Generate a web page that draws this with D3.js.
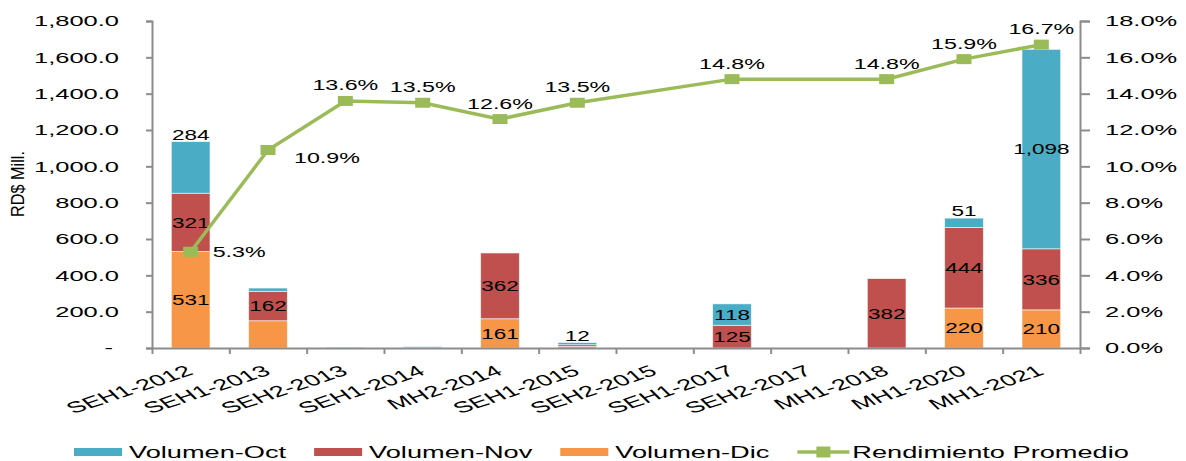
<!DOCTYPE html>
<html>
<head>
<meta charset="utf-8">
<script src="https://cdn.jsdelivr.net/npm/d3@7"></script>
<style>
    body { margin: 0; background: #fff; }
    svg { display: block; font-family: "Liberation Sans", Arial, sans-serif; }
    .axis path, .axis line { stroke: #8c8c8c; stroke-width: 2; }
    .axis text { fill: #000; font-size: 15px; }
</style>
</head>
<body>
<div id="chartDivId"></div>
<script>
// Data
const categories = ["SEH1-2012", "SEH1-2013", "SEH2-2013", "SEH1-2014", "MH2-2014", "SEH1-2015",
    "SEH2-2015", "SEH1-2017", "SEH2-2017", "MH1-2018", "MH1-2020", "MH1-2021"];
const volumenOct = [284, 18, 4, 6, 0, 12, 0, 118, 0, 0, 51, 1098];
const volumenNov = [321, 162, 0, 0, 362, 10, 0, 125, 0, 382, 444, 336];
const volumenDic = [531, 150, 0, 2, 161, 8, 0, 0, 0, 0, 220, 210];
const rendimiento = [5.3, 10.9, 13.6, 13.5, 12.6, 13.5, null, 14.8, null, 14.8, 15.9, 16.7];
const yTicks = [0, 200, 400, 600, 800, 1000, 1200, 1400, 1600, 1800];
const y2Ticks = [0, 2, 4, 6, 8, 10, 12, 14, 16, 18];

// label tweaks
const hiddenLabels = ["Dic|SEH1-2013", "Oct|SEH1-2013"];
const octLabelOnTop = ["SEH1-2012", "SEH1-2015", "MH1-2020"];
const lineLabelPlace = ["right", "rightBelow", "above", "above", "above", "above", null, "above", null, "above", "above", "above"];

const width = 1186, height = 461;
const plot = { left: 152, right: 1080, top: 21, bottom: 348 };
const colors = { Oct: "#4bacc6", Nov: "#c0504d", Dic: "#f79646", line: "#9bbb59" };
const stretch = 1.7;

const svg = d3.select("#chartDivId").append("svg")
    .attr("width", width)
    .attr("height", height);

const rows = categories.map((c, i) => ({ cat: c, Dic: volumenDic[i], Nov: volumenNov[i], Oct: volumenOct[i] }));
const keys = ["Dic", "Nov", "Oct"];
const series = d3.stack().keys(keys)(rows);

const x = d3.scaleBand().domain(categories).range([plot.left, plot.right])
    .paddingInner(0.5).paddingOuter(0.25);
const xEdge = d3.scaleLinear().domain([0, categories.length]).range([plot.left, plot.right]);
const y = d3.scaleLinear().domain([0, 1800]).range([plot.bottom, plot.top]);
const y2 = d3.scaleLinear().domain([0, 18]).range([plot.bottom, plot.top]);
const cx = c => x(c) + x.bandwidth() / 2;

// Bars
svg.append("g").selectAll("g")
    .data(series)
    .enter().append("g")
    .style("fill", d => colors[d.key])
    .selectAll("rect")
    .data(d => d)
    .enter().append("rect")
    .filter(d => d[1] - d[0] > 0)
    .attr("x", d => x(d.data.cat))
    .attr("width", x.bandwidth())
    .attr("y", d => y(d[1]))
    .attr("height", d => y(d[0]) - y(d[1]))
    .style("stroke", "#fff")
    .style("stroke-width", 0.8)
    .style("stroke-opacity", 0.7);

// Axes
const xAxis = d3.axisBottom(xEdge).tickValues(d3.range(categories.length + 1))
    .tickFormat("").tickSize(6).tickSizeOuter(0);
svg.append("g").attr("class", "x axis")
    .attr("transform", "translate(0," + plot.bottom + ")")
    .call(xAxis);

const yAxis = d3.axisLeft(y).tickValues(yTicks).tickSize(6)
    .tickFormat(d => d === 0 ? "-" : d3.format(",.1f")(d));
svg.append("g").attr("class", "y axis")
    .attr("transform", "translate(" + plot.left + ",0)")
    .call(yAxis)
    .selectAll("text")
    .attr("x", 0)
    .attr("transform", d => "translate(" + (d === 0 ? -39 : -33) + ",0) scale(" + stretch + ",1)");

const y2Axis = d3.axisRight(y2).tickValues(y2Ticks).tickSize(10)
    .tickFormat(d => d3.format(".1f")(d) + "%");
svg.append("g").attr("class", "y2 axis")
    .attr("transform", "translate(" + plot.right + ",0)")
    .call(y2Axis)
    .selectAll("text")
    .attr("x", 0)
    .attr("transform", "translate(25,0) scale(" + stretch + ",1)");

// Category labels
svg.append("g").selectAll("text")
    .data(categories)
    .enter().append("text")
    .attr("transform", d => "translate(" + (cx(d) + 4) + "," + 374 + ") scale(1.75,1) rotate(-30)")
    .style("text-anchor", "end")
    .style("font-size", "15.5px")
    .text(d => d);

// Y title
svg.append("text")
    .attr("transform", "translate(24,184) rotate(-90)")
    .attr("textLength", 66)
    .attr("lengthAdjust", "spacingAndGlyphs")
    .style("text-anchor", "middle")
    .style("font-size", "18px")
    .text("RD$ Mill.");

// Bar labels
const barLabels = [];
series.forEach(s => {
    s.forEach(d => {
        const v = d[1] - d[0];
        if (v >= 12 && hiddenLabels.indexOf(s.key + "|" + d.data.cat) < 0) {
            const onTop = s.key === "Oct" && octLabelOnTop.indexOf(d.data.cat) >= 0;
            barLabels.push({
                x: cx(d.data.cat),
                y: onTop ? y(d[1]) - 2 : (y(d[0]) + y(d[1])) / 2,
                dy: onTop ? "0em" : "0.36em",
                text: d3.format(",")(v)
            });
        }
    });
});
svg.append("g").selectAll("text")
    .data(barLabels)
    .enter().append("text")
    .attr("transform", d => "translate(" + d.x + "," + d.y + ") scale(1.5,1)")
    .attr("dy", d => d.dy)
    .style("text-anchor", "middle")
    .style("font-size", "15px")
    .text(d => d.text);

// Line
const linePts = categories.map((c, i) => ({ cat: c, v: rendimiento[i], place: lineLabelPlace[i] }))
    .filter(d => d.v !== null);
const line = d3.line().x(d => cx(d.cat)).y(d => y2(d.v));
svg.append("path")
    .datum(linePts)
    .attr("d", line)
    .style("fill", "none")
    .style("stroke", colors.line)
    .style("stroke-width", 3.5);

svg.append("g").selectAll("rect")
    .data(linePts)
    .enter().append("rect")
    .attr("x", d => cx(d.cat) - 7.5)
    .attr("y", d => y2(d.v) - 5)
    .attr("width", 15)
    .attr("height", 10)
    .style("fill", colors.line);

svg.append("g").selectAll("text")
    .data(linePts)
    .enter().append("text")
    .attr("transform", d => {
        const px = cx(d.cat), py = y2(d.v);
        if (d.place === "right") return "translate(" + (px + 22) + "," + py + ") scale(1.55,1)";
        if (d.place === "rightBelow") return "translate(" + (px + 26) + "," + (py + 8) + ") scale(1.55,1)";
        return "translate(" + px + "," + (py - 16) + ") scale(1.55,1)";
    })
    .attr("dy", "0.36em")
    .style("text-anchor", d => d.place === "above" ? "middle" : "start")
    .style("font-size", "15px")
    .text(d => d3.format(".1f")(d.v) + "%");

// Legend
const legendItems = [
    { name: "Volumen-Oct", color: colors.Oct, type: "bar" },
    { name: "Volumen-Nov", color: colors.Nov, type: "bar" },
    { name: "Volumen-Dic", color: colors.Dic, type: "bar" },
    { name: "Rendimiento Promedio", color: colors.line, type: "line" }
];
const legend = svg.append("g").attr("class", "legend");
let lx = 74;
const ly = 452;
legendItems.forEach(item => {
    const g = legend.append("g");
    if (item.type === "bar") {
        g.append("rect").attr("x", lx).attr("y", ly - 4).attr("width", 48).attr("height", 8)
            .style("fill", item.color);
    } else {
        g.append("line").attr("x1", lx).attr("x2", lx + 52).attr("y1", ly).attr("y2", ly)
            .style("stroke", item.color).style("stroke-width", 3.5);
        g.append("rect").attr("x", lx + 19).attr("y", ly - 5.5).attr("width", 14).attr("height", 11)
            .style("fill", item.color);
    }
    const tx = lx + 55;
    const t = g.append("text")
        .attr("transform", "translate(" + tx + "," + (ly + 6) + ") scale(1.7,1)")
        .style("font-size", "16px")
        .text(item.name);
    lx = tx + t.node().getComputedTextLength() * 1.7 + 28;
});
</script>
</body>
</html>
